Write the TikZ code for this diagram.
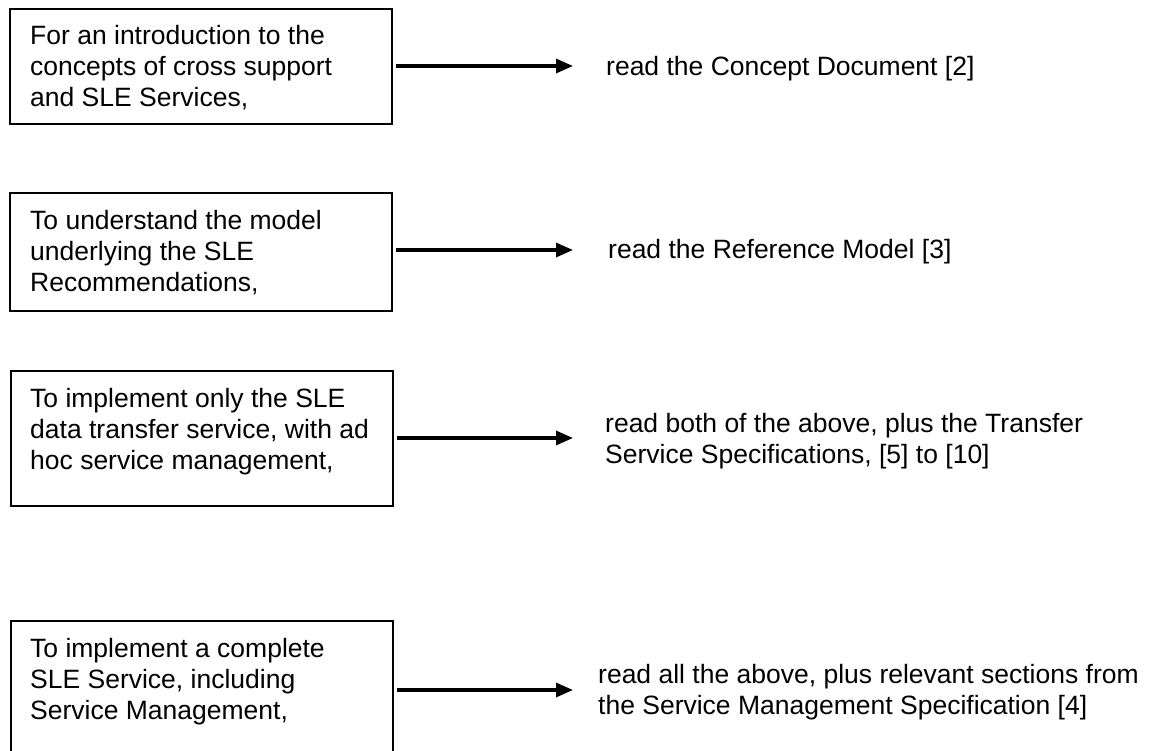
\documentclass[tikz,border=0pt]{standalone}
\usepackage{fontspec}
\setmainfont{Liberation Sans}
\usetikzlibrary{arrows.meta}
\begin{document}
\begin{tikzpicture}[x=1pt,y=-1pt,
  box/.style={draw=black,line width=2pt,anchor=north west,inner sep=0pt,minimum width=382pt},
  txt/.style={anchor=north west,inner sep=0pt,align=left,font=\fontsize{26.5}{31}\selectfont},
  arr/.style={line width=3.2pt,-{Triangle[length=17pt,width=14pt]}}]
\useasboundingbox[fill=white] (0,0) rectangle (1152,751);
% boxes
\node[box,minimum height=115pt] (b1) at (9,8) {};
\node[box,minimum height=118pt] (b2) at (9,192) {};
\node[box,minimum height=135pt] (b3) at (10,370) {};
\node[box,minimum height=200pt] (b4) at (10,620) {};
% box texts
\node[txt] (l1) at (30,25) {For an introduction to the\\concepts of cross support\\and SLE Services,};
\node[txt] (l2) at (30,210) {To understand the model\\underlying the SLE\\Recommendations,};
\node[txt] (l3) at (30,388) {To implement only the SLE\\data transfer service, with ad\\hoc service management,};
\node[txt] (l4) at (30,638) {To implement a complete\\SLE Service, including\\Service Management,};
% right texts
\node[txt] (r1) at (606,56) {read the Concept Document [2]};
\node[txt] (r2) at (608,239) {read the Reference Model [3]};
\node[txt] (r3) at (605,413) {read both of the above, plus the Transfer\\Service Specifications, [5] to [10]};
\node[txt] (r4) at (598,664) {read all the above, plus relevant sections from\\the Service Management Specification [4]};
% arrow ends
\coordinate (e1) at (573,66);
\coordinate (e2) at (573,250);
\coordinate (e3) at (573,438);
\coordinate (e4) at (573,690);
\draw[arr] ([xshift=3pt]b1.east |- e1) -- (e1);
\draw[arr] ([xshift=3pt]b2.east |- e2) -- (e2);
\draw[arr] ([xshift=3pt]b3.east |- e3) -- (e3);
\draw[arr] ([xshift=3pt]b4.east |- e4) -- (e4);
\end{tikzpicture}
\end{document}
